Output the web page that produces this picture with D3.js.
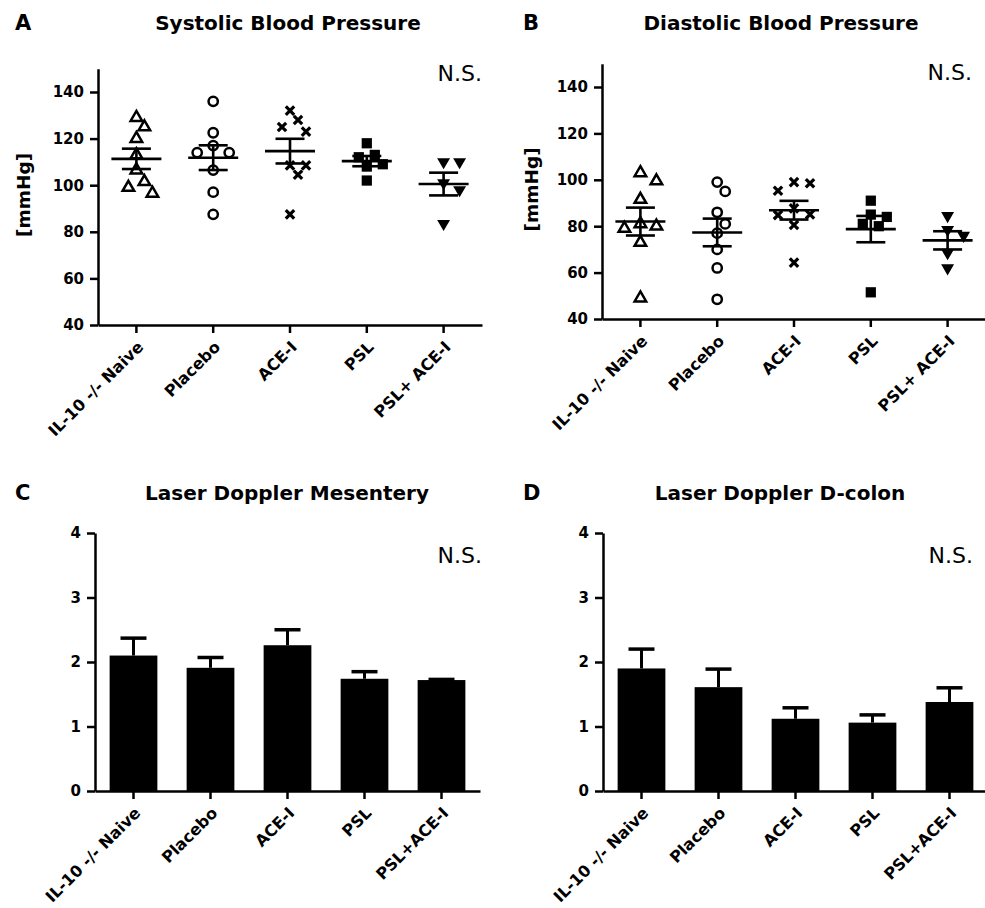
<!DOCTYPE html>
<html lang="en">
<head>
<meta charset="utf-8">
<script src="https://d3js.org/d3.v7.min.js"></script>
<style type="text/css">

body {
	margin: 0;
	background: #fff;
}

svg text {
	font-family: "DejaVu Sans", sans-serif;
	fill: #000;
}

.tick text {
	font-size: 15px;
	font-weight: bold;
}

.title {
	font-size: 20px;
	font-weight: bold;
}

.letter {
	font-size: 21px;
	font-weight: bold;
}

.ns {
	font-size: 22px;
}

</style>
</head>
<body>
<script type="text/javascript">

// Group names (bar panels spell the last one without a space)
var groups = ["IL-10 -/- Naive", "Placebo", "ACE-I", "PSL", "PSL+ ACE-I"];
var groupsBar = ["IL-10 -/- Naive", "Placebo", "ACE-I", "PSL", "PSL+ACE-I"];

// Individual animals, mmHg
var systolic = [
  [129, 125, 120, 113, 106.5, 101.5, 99, 96.5],
  [136, 122.5, 117, 114, 114, 106.5, 97, 87.5],
  [132, 128, 125, 123, 108.5, 108.5, 104.5, 87.5],
  [118, 113, 112, 109, 108, 102],
  [110, 110, 101, 98, 83.5]
];

var diastolic = [
  [103, 99.5, 91.5, 81, 80, 79, 73, 49],
  [99, 95, 86, 81, 77, 70, 62, 48.5],
  [99, 98.5, 95.3, 87.7, 85.1, 84.8, 80.5, 64.3],
  [91, 85, 84, 81, 80, 51.5],
  [84.5, 78.5, 76, 68.5, 62]
];

// Laser doppler, mean and SEM
var mesenteryMean = [2.10, 1.91, 2.26, 1.74, 1.72];
var mesenterySem = [0.27, 0.16, 0.24, 0.11, 0.01];
var dcolonMean = [1.90, 1.61, 1.12, 1.06, 1.38];
var dcolonSem = [0.30, 0.28, 0.17, 0.12, 0.22];

var bpTicks = [40, 60, 80, 100, 120, 140];
var ldTicks = [0, 1, 2, 3, 4];

var width = 985;
var height = 908;

var svg = d3.select("body")
            .append("svg")
            .attr("width", width)
            .attr("height", height);

// marker shapes for the five groups
var xMark = {
  draw: function(context, size) {
    var r = Math.sqrt(size) / 2;
    context.moveTo(-r, -r);
    context.lineTo(r, r);
    context.moveTo(r, -r);
    context.lineTo(-r, r);
  }
};

var markers = [
  {type: d3.symbolTriangle, size: 58, fill: "none", rotate: 0},
  {type: d3.symbolCircle, size: 68, fill: "none", rotate: 0},
  {type: xMark, size: 70, fill: "none", rotate: 0},
  {type: d3.symbolSquare, size: 105, fill: "#000", rotate: 0},
  {type: d3.symbolTriangle, size: 72, fill: "#000", rotate: 180}
];

// panel layout
var panels = [
  {letter: "A", title: "Systolic Blood Pressure", titleX: 288, top: 30,
   xr: [98, 482], yr: [325, 68.7], dom: [40, 150], ticks: bpTicks,
   ylab: "[mmHg]", ylabX: 24, data: systolic, cats: groups, nsX: 482, nsY: 81},
  {letter: "B", title: "Diastolic Blood Pressure", titleX: 781, top: 30,
   xr: [602, 986], yr: [319, 63.8], dom: [40, 150], ticks: bpTicks,
   ylab: "[mmHg]", ylabX: 532, data: diastolic, cats: groups, nsX: 972, nsY: 80},
  {letter: "C", title: "Laser Doppler Mesentery", titleX: 287, top: 500,
   xr: [95, 480], yr: [791, 533], dom: [0, 4], ticks: ldTicks,
   mean: mesenteryMean, sem: mesenterySem, cats: groupsBar, nsX: 482, nsY: 563},
  {letter: "D", title: "Laser Doppler D-colon", titleX: 780, top: 500,
   xr: [603, 988], yr: [791, 533], dom: [0, 4], ticks: ldTicks,
   mean: dcolonMean, sem: dcolonSem, cats: groupsBar, nsX: 973, nsY: 563}
];

// simple beeswarm: push a point sideways until it stops touching others
function swarm(values, y, cx) {
  var placed = [];
  var step = 8, minD = 12;
  return values.map(function(v) {
    var py = y(v);
    var offs = [0, 1, -1, 2, -2, 3, -3];
    for (var i = 0; i < offs.length; i++) {
      var px = cx + offs[i] * step;
      var ok = placed.every(function(p) {
        return Math.hypot(p[0] - px, p[1] - py) >= minD;
      });
      if (ok) {
        placed.push([px, py]);
        return [px, py, v];
      }
    }
    placed.push([cx, py]);
    return [cx, py, v];
  });
}

panels.forEach(function(p) {
  var g = svg.append("g");

  var x = d3.scaleBand().domain(p.cats).range(p.xr).paddingInner(0.38).paddingOuter(0.19);
  var y = d3.scaleLinear().domain(p.dom).range(p.yr);

  // letter and title
  g.append("text").attr("class", "letter")
   .attr("x", p.xr[0] < 300 ? 15 : 523).attr("y", p.top)
   .text(p.letter);

  g.append("text").attr("class", "title")
   .attr("x", p.titleX).attr("y", p.top)
   .attr("text-anchor", "middle")
   .text(p.title);

  g.append("text").attr("class", "ns")
   .attr("x", p.nsX).attr("y", p.nsY)
   .attr("text-anchor", "end")
   .text("N.S.");

  if (p.ylab) {
    var cy = (p.yr[0] + p.yr[1]) / 2 - 2;
    g.append("text").attr("class", "title")
     .attr("transform", "translate(" + p.ylabX + "," + cy + ") rotate(-90)")
     .attr("dy", "0.35em")
     .attr("text-anchor", "middle")
     .style("font-size", "18.5px")
     .text(p.ylab);
  }

  var cx = function(d) { return x(d) + x.bandwidth() / 2; };

  if (p.data) {
    // scatter with mean +/- SEM
    p.data.forEach(function(vals, i) {
      var c = cx(p.cats[i]);
      var m = markers[i];
      var pts = swarm(vals, y, c);
      var sym = d3.symbol().type(m.type).size(m.size);

      g.selectAll(".pt" + i)
       .data(pts)
       .enter()
       .append("path")
       .attr("d", sym)
       .attr("transform", function(d) {
         return "translate(" + d[0] + "," + d[1] + ") rotate(" + m.rotate + ")";
       })
       .style("fill", m.fill)
       .style("stroke", "#000")
       .style("stroke-width", m.fill === "none" ? (i === 2 ? 3.2 : 2.5) : 0);

      var mean = d3.mean(vals);
      var sem = d3.deviation(vals) / Math.sqrt(vals.length);

      g.append("line")
       .attr("x1", c - 25).attr("x2", c + 25)
       .attr("y1", y(mean)).attr("y2", y(mean))
       .style("stroke", "#000").style("stroke-width", 2.6);
      g.append("line")
       .attr("x1", c).attr("x2", c)
       .attr("y1", y(mean + sem)).attr("y2", y(mean - sem))
       .style("stroke", "#000").style("stroke-width", 2.6);
      [mean + sem, mean - sem].forEach(function(v) {
        g.append("line")
         .attr("x1", c - 14.5).attr("x2", c + 14.5)
         .attr("y1", y(v)).attr("y2", y(v))
         .style("stroke", "#000").style("stroke-width", 2.6);
      });
    });
  } else {
    // bars with upper SEM whisker
    var bars = p.mean.map(function(v, i) { return {cat: p.cats[i], mean: v, sem: p.sem[i]}; });

    g.selectAll(".err")
     .data(bars)
     .enter()
     .append("line")
     .attr("x1", function(d) { return cx(d.cat); })
     .attr("x2", function(d) { return cx(d.cat); })
     .attr("y1", function(d) { return y(d.mean); })
     .attr("y2", function(d) { return y(d.mean + d.sem); })
     .style("stroke", "#000").style("stroke-width", 3);

    g.selectAll(".cap")
     .data(bars)
     .enter()
     .append("line")
     .attr("x1", function(d) { return cx(d.cat) - 13; })
     .attr("x2", function(d) { return cx(d.cat) + 13; })
     .attr("y1", function(d) { return y(d.mean + d.sem); })
     .attr("y2", function(d) { return y(d.mean + d.sem); })
     .style("stroke", "#000").style("stroke-width", 3.5);

    g.selectAll(".bar")
     .data(bars)
     .enter()
     .append("rect")
     .attr("x", function(d) { return x(d.cat); })
     .attr("width", x.bandwidth())
     .attr("y", function(d) { return y(d.mean); })
     .attr("height", function(d) { return y(0) - y(d.mean); })
     .style("fill", "#000");
  }

  // axes
  var xBand = d3.scaleBand().domain(p.cats).range(p.xr);
  var xAxis = g.append("g")
               .attr("transform", "translate(0," + p.yr[0] + ")")
               .call(d3.axisBottom(xBand).tickSize(8).tickSizeOuter(0));
  xAxis.selectAll(".tick text")
       .attr("text-anchor", "end")
       .attr("transform", "translate(8,23) rotate(-45)")
       .style("font-size", "16px")
       .attr("dy", 0)
       .attr("y", 0)
       .attr("x", 0);

  var yAxis = g.append("g")
               .attr("transform", "translate(" + p.xr[0] + ",0)")
               .call(d3.axisLeft(y).tickValues(p.ticks).tickSize(8).tickPadding(6).tickSizeOuter(0)
                       .tickFormat(d3.format("d")));

  g.selectAll(".domain, .tick line")
   .style("stroke", "#000")
   .style("stroke-width", 2.5);
});

</script>
</body>
</html>
